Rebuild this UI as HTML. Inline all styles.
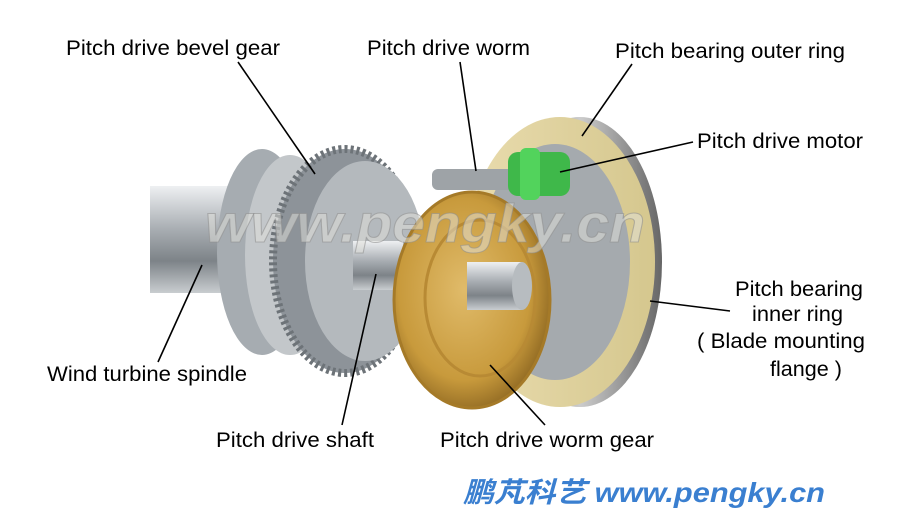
<!DOCTYPE html>
<html><head><meta charset="utf-8"><style>
body{margin:0;background:#fff;width:900px;height:520px;overflow:hidden}
svg{display:block}
text{font-family:"Liberation Sans",Arial,sans-serif;font-size:21.5px;fill:#000}
</style></head><body>
<svg width="900" height="520" viewBox="0 0 900 520">
<defs>
<linearGradient id="steel" x1="0" y1="0" x2="0" y2="1">
<stop offset="0" stop-color="#eef0f2"/><stop offset="0.4" stop-color="#a9aeb3"/><stop offset="0.7" stop-color="#7d8388"/><stop offset="1" stop-color="#c9cdd0"/></linearGradient>
<radialGradient id="gold" cx="0.45" cy="0.45" r="0.6">
<stop offset="0" stop-color="#e0bb6a"/><stop offset="0.7" stop-color="#c89a3c"/><stop offset="1" stop-color="#8a6420"/></radialGradient>
<linearGradient id="ring" x1="0" y1="0" x2="1" y2="0">
<stop offset="0" stop-color="#e9dcae"/><stop offset="1" stop-color="#d5c78e"/></linearGradient>
<linearGradient id="rim" x1="0" y1="0" x2="1" y2="0">
<stop offset="0" stop-color="#555"/><stop offset="0.5" stop-color="#ccc"/><stop offset="1" stop-color="#666"/></linearGradient>
</defs>
<rect x="150" y="186" width="90" height="107" fill="url(#steel)"/>
<ellipse cx="262" cy="252" rx="45" ry="103" fill="#a6acb1"/>
<ellipse cx="290" cy="255" rx="45" ry="100" fill="#c3c7ca"/>
<ellipse cx="345" cy="261" rx="72" ry="112" fill="#8d9399" stroke="#6d7378" stroke-dasharray="3 3" stroke-width="8"/>
<ellipse cx="365" cy="261" rx="60" ry="100" fill="#b4b9bd"/>
<rect x="353" y="241" width="50" height="49" fill="url(#steel)"/>
<ellipse cx="580" cy="262" rx="82" ry="145" fill="url(#rim)"/>
<ellipse cx="560" cy="262" rx="95" ry="145" fill="url(#ring)"/>
<ellipse cx="555" cy="262" rx="75" ry="118" fill="#a5aaae"/>
<rect x="432" y="169" width="84" height="21" rx="6" fill="#9ea3a7"/>
<rect x="508" y="152" width="62" height="44" rx="10" fill="#3fb84a"/>
<rect x="520" y="148" width="20" height="52" rx="6" fill="#52d35c"/>
<ellipse cx="472" cy="300" rx="78" ry="108" fill="url(#gold)" stroke="#a57a28" stroke-width="3"/>
<ellipse cx="480" cy="298" rx="55" ry="78" fill="none" stroke="#b88a34" stroke-width="3"/>
<rect x="467" y="262" width="55" height="48" fill="url(#steel)"/>
<ellipse cx="522" cy="286" rx="10" ry="24" fill="#b7bcc0"/>
<text x="205" y="242" textLength="440" lengthAdjust="spacingAndGlyphs" style="font-size:54px;font-style:italic;font-weight:bold;fill:rgba(225,225,220,0.5);stroke:rgba(140,140,140,0.55);stroke-width:1">www.pengky.cn</text>
<g stroke="#000" stroke-width="1.6">
<line x1="238" y1="62" x2="315" y2="174"/>
<line x1="460" y1="62" x2="476" y2="171"/>
<line x1="632" y1="64" x2="582" y2="136"/>
<line x1="693" y1="142" x2="560" y2="172"/>
<line x1="730" y1="311" x2="650" y2="301"/>
<line x1="158" y1="362" x2="202" y2="265"/>
<line x1="342" y1="425" x2="376" y2="274"/>
<line x1="545" y1="425" x2="490" y2="365"/>
</g>
<text x="66" y="55" textLength="214" lengthAdjust="spacingAndGlyphs">Pitch drive bevel gear</text>
<text x="367" y="55" textLength="163" lengthAdjust="spacingAndGlyphs">Pitch drive worm</text>
<text x="615" y="58" textLength="230" lengthAdjust="spacingAndGlyphs">Pitch bearing outer ring</text>
<text x="697" y="148" textLength="166" lengthAdjust="spacingAndGlyphs">Pitch drive motor</text>
<text x="735" y="296" textLength="128" lengthAdjust="spacingAndGlyphs">Pitch bearing</text>
<text x="752" y="321" textLength="91" lengthAdjust="spacingAndGlyphs">inner ring</text>
<text x="697" y="348" textLength="168" lengthAdjust="spacingAndGlyphs">( Blade mounting</text>
<text x="770" y="376" textLength="72" lengthAdjust="spacingAndGlyphs">flange )</text>
<text x="47" y="381" textLength="200" lengthAdjust="spacingAndGlyphs">Wind turbine spindle</text>
<text x="216" y="447" textLength="158" lengthAdjust="spacingAndGlyphs">Pitch drive shaft</text>
<text x="440" y="447" textLength="214" lengthAdjust="spacingAndGlyphs">Pitch drive worm gear</text>
<text x="463" y="502" textLength="362" lengthAdjust="spacingAndGlyphs" style="font-family:'Liberation Sans','Noto Sans CJK SC',sans-serif;font-size:28px;font-style:italic;font-weight:bold;fill:#3a7fd0">鹏芃科艺 www.pengky.cn</text>
</svg>
</body></html>
